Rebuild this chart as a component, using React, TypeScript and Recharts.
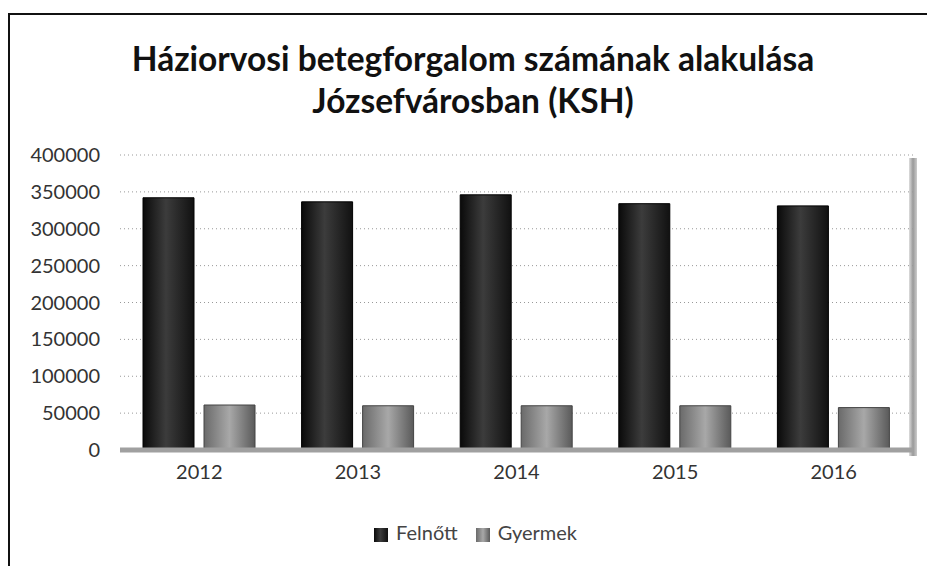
import * as React from "react"
import {
  BarChart,
  Bar,
  XAxis,
  YAxis,
  CartesianGrid,
  Legend,
} from "recharts"

const years = ["2012", "2013", "2014", "2015", "2016"]
const felnott = [342000, 336500, 346000, 334000, 331000]
const gyermek = [61000, 60000, 60000, 60000, 57500]
const yTicks = [0, 50000, 100000, 150000, 200000, 250000, 300000, 350000, 400000]

const data = years.map((year, i) => ({
  year,
  Felnőtt: felnott[i],
  Gyermek: gyermek[i],
}))

const font = "Lato, 'Open Sans', sans-serif"

export default function App() {
  return (
    <div style={{ position: "absolute", left: 0, top: 0, width: 927, height: 566, overflow: "hidden", background: "#fff" }}>
      <div
        style={{
          position: "absolute",
          left: 8,
          top: 13,
          width: 919,
          height: 553,
          borderLeft: "2px solid #111",
          borderTop: "2px solid #111",
          boxSizing: "border-box",
        }}
      />
      <div
        style={{
          position: "absolute",
          left: 0,
          top: 37,
          width: 946,
          textAlign: "center",
          fontFamily: font,
          fontWeight: 700,
          fontSize: 33.5,
          lineHeight: "42px",
          color: "#111",
        }}
      >
        Háziorvosi betegforgalom számának alakulása
        <br />
        Józsefvárosban (KSH)
      </div>
      {/* right side wall of the 3D plot */}
      <div
        style={{
          position: "absolute",
          left: 909,
          top: 158,
          width: 8,
          height: 298,
          background: "linear-gradient(90deg, #ddd, #999 50%, #ccc)",
        }}
      />
      <div style={{ position: "absolute", left: 0, top: 0 }}>
        <BarChart
          width={927}
          height={566}
          data={data}
          margin={{ top: 155, right: 14, bottom: 62, left: 0 }}
          barCategoryGap={23}
          barGap={10}
        >
          <defs>
            <linearGradient id="gradFel" x1="0" y1="0" x2="1" y2="0">
              <stop offset="0%" stopColor="#0a0a0a" />
              <stop offset="45%" stopColor="#3c3c3c" />
              <stop offset="100%" stopColor="#111" />
            </linearGradient>
            <linearGradient id="gradGy" x1="0" y1="0" x2="1" y2="0">
              <stop offset="0%" stopColor="#6a6a6a" />
              <stop offset="50%" stopColor="#a8a8a8" />
              <stop offset="100%" stopColor="#5a5a5a" />
            </linearGradient>
          </defs>
          <CartesianGrid vertical={false} stroke="#999" strokeDasharray="1 3" />
          <XAxis
            dataKey="year"
            axisLine={{ stroke: "#a0a0a0", strokeWidth: 5 }}
            tickLine={false}
            tickMargin={9}
            tick={{ fill: "#333", fontSize: 20, fontFamily: font }}
          />
          <YAxis
            width={120}
            domain={[0, 400000]}
            ticks={yTicks}
            interval={0}
            axisLine={false}
            tickLine={false}
            tickMargin={14}
            tick={{ fill: "#333", fontSize: 20, fontFamily: font }}
          />
          <Legend
            verticalAlign="bottom"
            iconType="square"
            iconSize={14}
            wrapperStyle={{ bottom: 22, fontFamily: font, fontSize: 20, left: 28 }}
            formatter={(value) => (
              <span style={{ color: "#444", marginLeft: 4, marginRight: 8 }}>{value}</span>
            )}
          />
          <Bar dataKey="Felnőtt" fill="url(#gradFel)" stroke="#000" strokeWidth={1} isAnimationActive={false} />
          <Bar dataKey="Gyermek" fill="url(#gradGy)" stroke="#444" strokeWidth={1} isAnimationActive={false} />
        </BarChart>
      </div>
    </div>
  )
}
